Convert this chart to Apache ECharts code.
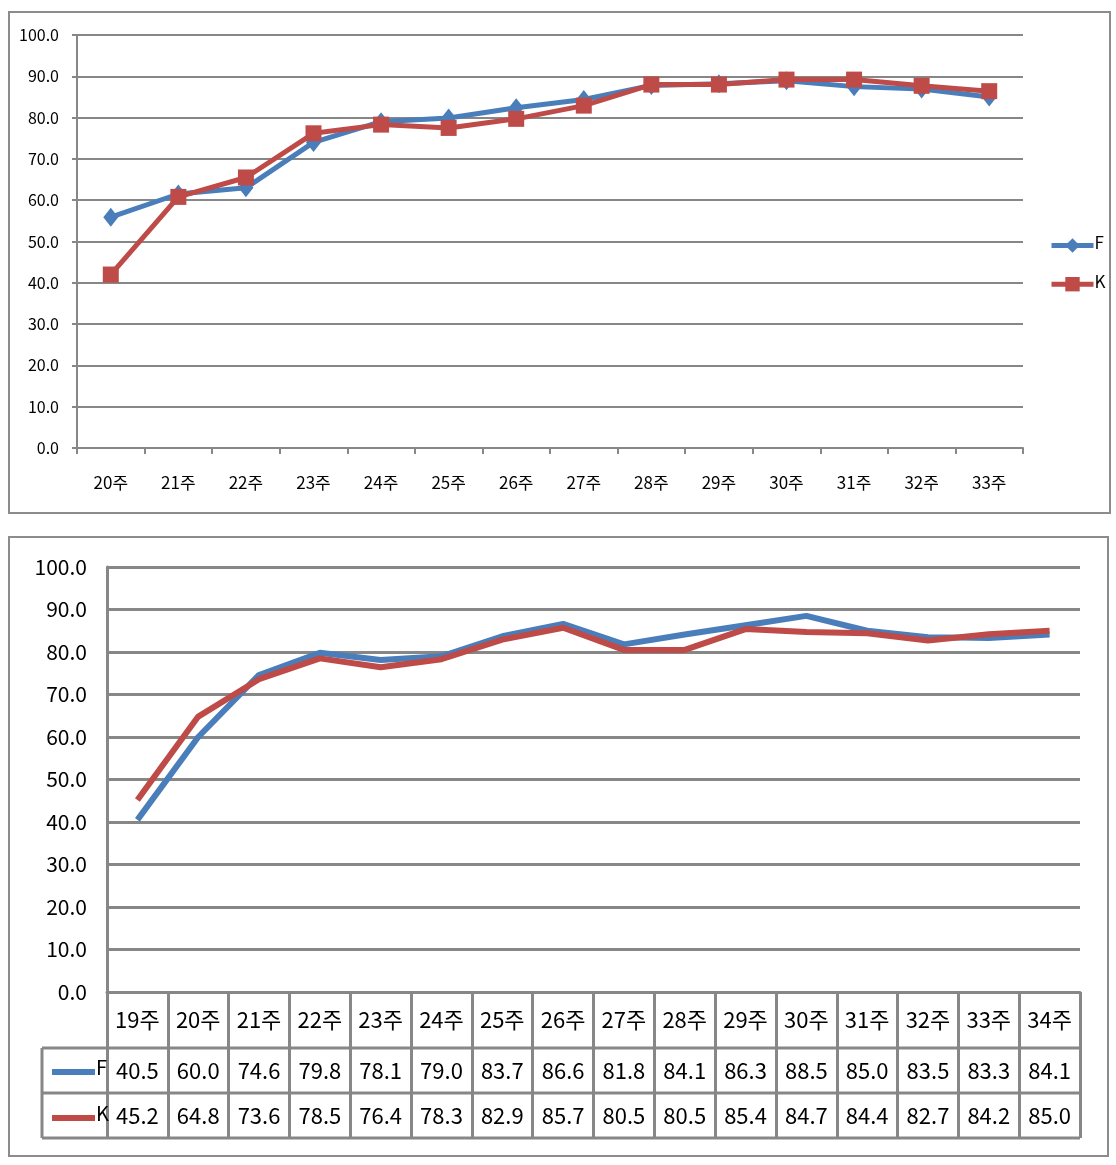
<!DOCTYPE html>
<html><head><meta charset="utf-8">
<script src="https://cdn.jsdelivr.net/npm/echarts@6/dist/echarts.min.js"></script>
<style>html,body{margin:0;padding:0;background:#fff}#c{width:1116px;height:1165px}</style>
</head><body><div id="c"></div>
<script>
const topCategories = ['20주','21주','22주','23주','24주','25주','26주','27주','28주','29주','30주','31주','32주','33주'];
const topF = [55.9, 61.5, 63.0, 74.0, 79.0, 79.9, 82.4, 84.4, 87.8, 88.2, 88.9, 87.5, 86.9, 85.0];
const topK = [42.0, 60.8, 65.5, 76.2, 78.3, 77.5, 79.7, 82.9, 88.0, 88.0, 89.2, 89.2, 87.7, 86.4];
const bottomCategories = ['19주','20주','21주','22주','23주','24주','25주','26주','27주','28주','29주','30주','31주','32주','33주','34주'];
const bottomF = [40.5, 60.0, 74.6, 79.8, 78.1, 79.0, 83.7, 86.6, 81.8, 84.1, 86.3, 88.5, 85.0, 83.5, 83.3, 84.1];
const bottomK = [45.2, 64.8, 73.6, 78.5, 76.4, 78.3, 82.9, 85.7, 80.5, 80.5, 85.4, 84.7, 84.4, 82.7, 84.2, 85.0];
const yTicks = [0,10,20,30,40,50,60,70,80,90,100];

const FONT = '"Liberation Sans Narrow", "Noto Sans CJK KR", sans-serif';
const BLUE = '#4A7EBB', RED = '#BE4B48', GRID = '#878787';

const chart = echarts.init(document.getElementById('c'), null, {renderer:'canvas'});

// layout constants
const g1 = {left:77, right:93, top:35, bottom:1165-448};
const g2 = {left:107, right:36, top:567, bottom:1165-992};
const rowH = [56, 45, 45];
const tableBottom = 992 + rowH[0] + rowH[1] + rowH[2];
const tableLeft = 42;
const gridRightX = 1116 - g2.right;

const fmt = v => Number(v).toFixed(1);

const tableLegend = (name, top) => ({
  data:[{name:name, icon:'rect'}], orient:'vertical', left:47, top:top,
  itemWidth:43, itemHeight:6,
  formatter:'{a|{name}}',
  textStyle:{fontFamily:FONT, fontSize:20, color:'#000', padding:[0,0,0,-4],
    rich:{a:{fontFamily:FONT, fontSize:20, color:'#000', padding:[0,0,10,0]}}}
});

chart.setOption({
  animation:false,
  textStyle:{fontFamily:FONT, color:'#000'},
  legend:[{
    data:['F','K'], orient:'vertical', left:1044, top:229, itemGap:20,
    itemWidth:42, itemHeight:18, lineStyle:{width:5},
    formatter:'{a|{name}}',
    textStyle:{fontFamily:FONT, fontSize:17, color:'#000', padding:[0,0,0,-4],
      rich:{a:{fontFamily:FONT, fontSize:17, color:'#000', padding:[0,0,6,0]}}}
  },
    tableLegend('F ', 1052),
    tableLegend('K ', 1098)
  ],
  grid:[
    {left:g1.left, right:g1.right, top:g1.top, bottom:g1.bottom, containLabel:false},
    {left:g2.left, right:g2.right, top:g2.top, bottom:g2.bottom, containLabel:false}
  ],
  xAxis:[{
    gridIndex:0, type:'category', data:topCategories, boundaryGap:true,
    axisLine:{lineStyle:{color:GRID, width:2}},
    axisTick:{show:true, length:6, lineStyle:{color:GRID, width:2}},
    axisLabel:{fontFamily:FONT, fontSize:17, color:'#000', margin:26}
  },{
    gridIndex:1, type:'category', data:bottomCategories, boundaryGap:true,
    axisLine:{lineStyle:{color:GRID, width:3}},
    axisTick:{show:true, length:tableBottom-992, lineStyle:{color:GRID, width:3}},
    axisLabel:{
      margin:0, verticalAlign:'top', fontFamily:FONT, color:'#000',
      formatter:(v, i) => '{c|' + v + '}\n{f|' + fmt(bottomF[i]) + '}\n{k|' + fmt(bottomK[i]) + '}',
      rich:{
        c:{fontSize:22, lineHeight:rowH[0], fontFamily:FONT, color:'#000'},
        f:{fontSize:22, lineHeight:rowH[1], fontFamily:FONT, color:'#000'},
        k:{fontSize:22, lineHeight:rowH[2], fontFamily:FONT, color:'#000'}
      }
    }
  }],
  yAxis:[{
    gridIndex:0, type:'value', min:0, max:100, interval:10,
    axisLine:{show:true, lineStyle:{color:GRID, width:2}},
    axisTick:{show:true, length:5, lineStyle:{color:GRID, width:2}},
    splitLine:{lineStyle:{color:GRID, width:2}},
    axisLabel:{formatter:fmt, fontFamily:FONT, fontSize:16, color:'#000', margin:18}
  },{
    gridIndex:1, type:'value', min:0, max:100, interval:10,
    axisLine:{show:true, lineStyle:{color:GRID, width:3}},
    axisTick:{show:false},
    splitLine:{lineStyle:{color:GRID, width:3}},
    axisLabel:{formatter:fmt, fontFamily:FONT, fontSize:21, color:'#000', margin:20}
  }],
  series:[
    {name:'F', type:'line', xAxisIndex:0, yAxisIndex:0, data:topF, color:BLUE,
     symbol:'diamond', symbolSize:[15,19], lineStyle:{width:5, color:BLUE}, itemStyle:{color:BLUE}},
    {name:'K', type:'line', xAxisIndex:0, yAxisIndex:0, data:topK, color:RED,
     symbol:'rect', symbolSize:16, lineStyle:{width:5, color:RED}, itemStyle:{color:RED}},
    {name:'F ', type:'line', xAxisIndex:1, yAxisIndex:1, data:bottomF, color:BLUE,
     symbol:'none', lineStyle:{width:6, color:BLUE}, itemStyle:{color:BLUE}},
    {name:'K ', type:'line', xAxisIndex:1, yAxisIndex:1, data:bottomK, color:RED,
     symbol:'none', lineStyle:{width:6, color:RED}, itemStyle:{color:RED}}
  ],
  graphic:[
    {type:'rect', shape:{x:9, y:12, width:1101, height:501}, style:{fill:null, stroke:'#8c8c8c', lineWidth:2}, silent:true},
    {type:'rect', shape:{x:9, y:537, width:1099, height:619}, style:{fill:null, stroke:'#8c8c8c', lineWidth:2}, silent:true},
    {type:'line', shape:{x1:tableLeft, y1:992+rowH[0], x2:gridRightX, y2:992+rowH[0]}, style:{stroke:GRID, lineWidth:3}, silent:true},
    {type:'line', shape:{x1:tableLeft, y1:992+rowH[0]+rowH[1], x2:gridRightX, y2:992+rowH[0]+rowH[1]}, style:{stroke:GRID, lineWidth:3}, silent:true},
    {type:'line', shape:{x1:tableLeft, y1:tableBottom, x2:gridRightX, y2:tableBottom}, style:{stroke:GRID, lineWidth:3}, silent:true},
    {type:'line', shape:{x1:tableLeft, y1:992+rowH[0], x2:tableLeft, y2:tableBottom}, style:{stroke:GRID, lineWidth:3}, silent:true}
  ]
});
</script></body></html>
